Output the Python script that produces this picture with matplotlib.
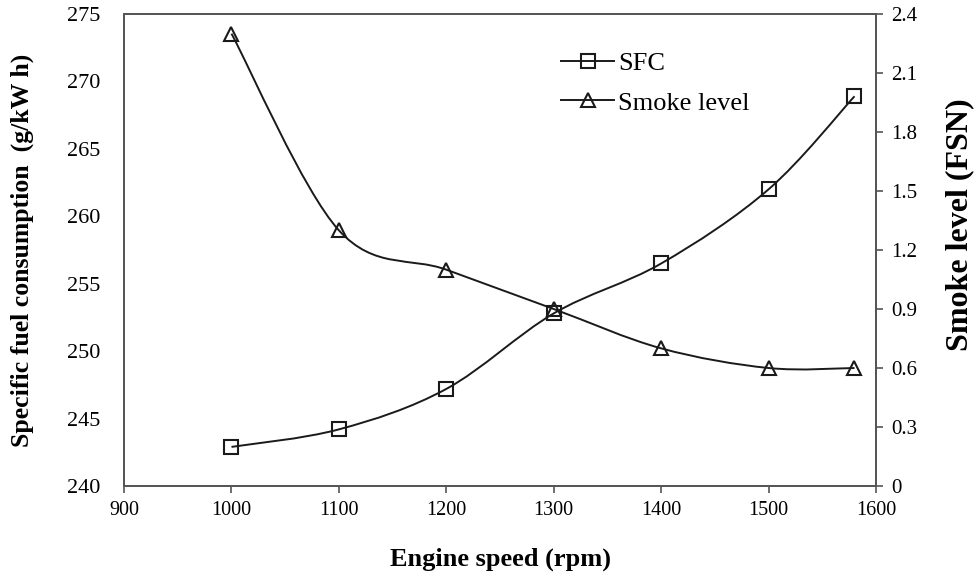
import matplotlib
matplotlib.use("Agg")
import matplotlib.pyplot as plt
import numpy as np
from matplotlib.path import Path
from matplotlib.patches import PathPatch

plt.rcParams['font.family'] = ['Liberation Serif', 'DejaVu Serif']

speed = [1000, 1100, 1200, 1300, 1400, 1500, 1580]
sfc = [242.9, 244.2, 247.2, 252.8, 256.5, 262.0, 268.9]
smoke = [2.30, 1.30, 1.10, 0.90, 0.70, 0.60, 0.60]

x_ticks = [900, 1000, 1100, 1200, 1300, 1400, 1500, 1600]
sfc_ticks = [240, 245, 250, 255, 260, 265, 270, 275]
smoke_ticks = [0, 0.3, 0.6, 0.9, 1.2, 1.5, 1.8, 2.1, 2.4]
smoke_tick_labels = ['0', '0.3', '0.6', '0.9', '1.2', '1.5', '1.8', '2.1', '2.4']

LINE = '#1a1a1a'
SPINE = '#555555'


def smooth_path(xs, ys):
    """Excel-style smoothed line: cubic Bezier through the data points."""
    pts = np.column_stack([xs, ys]).astype(float)
    n = len(pts)
    verts = [pts[0]]
    codes = [Path.MOVETO]
    for i in range(n - 1):
        p0 = pts[i - 1] if i > 0 else pts[i]
        p1 = pts[i]
        p2 = pts[i + 1]
        p3 = pts[i + 2] if i + 2 < n else pts[i + 1]
        c1 = p1 + (p2 - p0) / 6.0
        c2 = p2 - (p3 - p1) / 6.0
        verts += [c1, c2, p2]
        codes += [Path.CURVE4] * 3
    return Path(verts, codes)


fig = plt.figure(figsize=(9.77, 5.77), dpi=100)
ax = fig.add_axes([0.127, 0.1577, 0.7696, 0.818])
ax2 = ax.twinx()

ax.add_patch(PathPatch(smooth_path(speed, sfc), fill=False, edgecolor=LINE, lw=1.4))
ax2.add_patch(PathPatch(smooth_path(speed, smoke), fill=False, edgecolor=LINE, lw=1.4))

h1, = ax.plot(speed, sfc, linestyle='none', marker='s', markersize=10,
              mfc='none', mec=LINE, mew=1.5)
h2, = ax2.plot(speed, smoke, linestyle='none', marker='^', markersize=10,
               mfc='none', mec=LINE, mew=1.5)

# legend proxies (line + marker)
l1, = ax.plot([], [], color=LINE, lw=1.4, marker='s', markersize=10, mfc='none', mec=LINE, mew=1.5)
l2, = ax.plot([], [], color=LINE, lw=1.4, marker='^', markersize=10, mfc='none', mec=LINE, mew=1.5)

ax.set_xlim(900, 1600)
ax.set_ylim(240, 275)
ax2.set_ylim(0, 2.4)
ax.set_xticks(x_ticks)
ax.set_xticklabels([str(t) for t in x_ticks])
ax.set_yticks(sfc_ticks)
ax2.set_yticks(smoke_ticks)
ax2.set_yticklabels(smoke_tick_labels)

for a in (ax, ax2):
    for s in a.spines.values():
        s.set_color(SPINE)
        s.set_linewidth(1.3)

ax.tick_params(axis='x', direction='out', length=5, width=1.2, color=SPINE,
               labelsize=14.5, pad=6)
ax.tick_params(axis='y', direction='out', length=0, labelsize=16, pad=17)
ax2.tick_params(axis='y', direction='out', length=5, width=1.2, color=SPINE,
                labelsize=15, pad=6)

ax.set_xlabel('Engine speed (rpm)', fontsize=19, fontweight='bold', labelpad=20)
ax.set_ylabel('Specific fuel consumption  (g/kW h)', fontsize=18.5, fontweight='bold', labelpad=24)
ax2.set_ylabel('Smoke level (FSN)', fontsize=23, fontweight='bold')
ax2.yaxis.set_label_coords(1.092, 0.553)

ax.legend([l1, l2], ['SFC', 'Smoke level'], loc='upper left',
          bbox_to_anchor=(0.55, 0.97), frameon=False, fontsize=19,
          handlelength=2.0, handletextpad=0.15, labelspacing=0.6, numpoints=1)

fig.savefig('out.png', dpi=100)
